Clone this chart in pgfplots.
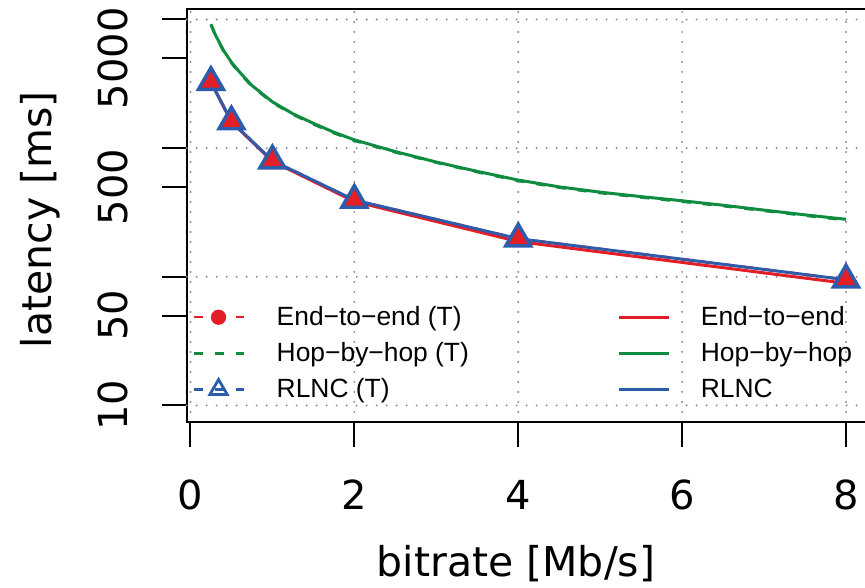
\documentclass[border=0pt]{standalone}
\usepackage{fontspec}
\setmainfont{Liberation Sans}
\newfontfamily\dvs{DejaVu Sans}
\usepackage{pgfplots}
\pgfplotsset{compat=1.18}
\definecolor{cred}{RGB}{228,30,38}
\definecolor{cgreen}{RGB}{16,140,64}
\definecolor{cblue}{RGB}{44,92,172}

\begin{document}
\begin{tikzpicture}
\begin{axis}[name=ax,
  scale only axis, width=342.4pt, height=206.5pt,
  xmin=-0.046, xmax=8.31,
  ymode=log, ymin=7.445, ymax=12067,
  axis line style={line width=1pt},
  every tick/.style={black, line width=1pt},
  tick align=outside, major tick length=12.5pt,
  xtick pos=bottom, ytick pos=left,
  xtick={0,2,4,6,8}, xmajorgrids,
  ytick={10,50,100,500,1000,5000,10000},
  yticklabels={10,50,,500,,5000,},
  yminorticks=false,
  extra y ticks={10,100,1000,10000}, extra y tick labels={},
  extra y tick style={ymajorgrids=true, major tick length=0pt},
  grid style={black!45, line width=1.1pt, dash pattern=on 0pt off 5pt, line cap=round},
  /pgf/number format/assume math mode=true,
  ticklabel style={font=\dvs\fontsize{20}{24}\selectfont},
  yticklabel style={rotate=90, anchor=south},
  xticklabel style={anchor=north},
  xticklabel shift=13pt, yticklabel shift=13.5pt,
  xlabel={bitrate [Mb/s]}, ylabel={latency [ms]},
  label style={font=\dvs\fontsize{20.5}{24}\selectfont},
  xlabel style={at={(axis description cs:0.481,-0.3426)}, anchor=center},
  ylabel style={at={(axis description cs:-0.2143,0.49)}, anchor=center},
  legend columns=2, legend cell align=left,
  legend image code/.code={\draw[mark repeat=2,mark phase=2,#1] plot coordinates {(0pt,0pt)(12.5pt,0pt)(25pt,0pt)};},
  legend style={at={(rel axis cs:0.0077,0.291)}, anchor=north west, draw=none, fill=none,
    inner sep=0pt, row sep=3pt, font=\fontsize{13.2}{15}\selectfont,
    /tikz/column 1/.style={column sep=14pt},
    /tikz/column 2/.style={column sep=72.5pt},
    /tikz/column 3/.style={column sep=13pt}},
]
% Hop-by-hop (T), dashed
\addplot[cgreen, line width=1.2pt, dash pattern=on 4.5pt off 6pt, forget plot] coordinates {
(0.25,9050)(0.3,7550)(0.4,5700)(0.5,4560)(0.6,3820)(0.75,3010)(1.0,2250)(1.25,1820)
(1.5,1530)(1.75,1305)(2.0,1140)(2.5,925)(3.0,770)(3.5,650)(4.0,555)(4.5,492)
(5.0,447)(5.5,413)(6.0,383)(6.5,354)(7.0,325)(7.5,298)(8.0,275)};
% Hop-by-hop
\addplot[cgreen, line width=1.5pt, forget plot] coordinates {
(0.25,9200)(0.3,7700)(0.4,5800)(0.5,4650)(0.6,3900)(0.75,3070)(1.0,2290)(1.25,1850)
(1.5,1560)(1.75,1330)(2.0,1160)(2.5,940)(3.0,780)(3.5,660)(4.0,565)(4.5,500)
(5.0,455)(5.5,420)(6.0,390)(6.5,360)(7.0,330)(7.5,303)(8.0,280)};
% End-to-end
\addplot[cred, line width=1.5pt, forget plot] coordinates {
(0.25,3260)(0.5,1600)(1,790)(2,385)(4,188)(8,89)};
% RLNC
\addplot[cblue, line width=1.5pt, forget plot] coordinates {
(0.25,3260)(0.5,1610)(1,800)(2,395)(4,198)(8,95)};
% End-to-end (T)
\addplot[cred, line width=1.2pt, dash pattern=on 4.5pt off 6pt, mark=triangle*, mark size=6pt,
  mark options={solid, fill=cred, draw=cred}, forget plot] coordinates {
(0.25,3260)(0.5,1610)(1,800)(2,395)(4,198)(8,95)};
% RLNC (T)
\addplot[cblue, line width=1.2pt, dash pattern=on 4.5pt off 6pt, mark=triangle, mark size=7.2pt,
  mark options={solid, line width=1.7pt}, forget plot] coordinates {
(0.25,3260)(0.5,1610)(1,800)(2,395)(4,198)(8,95)};

\addlegendimage{cred, line width=1.2pt, dash pattern=on 4.5pt off 6pt, mark=*, mark size=3.2pt, mark options={solid, fill=cred}}
\addlegendentry{End−to−end (T)}
\addlegendimage{cred, line width=1.5pt}
\addlegendentry{End−to−end}
\addlegendimage{cgreen, line width=1.2pt, dash pattern=on 4.5pt off 6pt}
\addlegendentry{Hop−by−hop (T)}
\addlegendimage{cgreen, line width=1.5pt}
\addlegendentry{Hop−by−hop}
\addlegendimage{cblue, line width=1.2pt, dash pattern=on 4.5pt off 6pt, mark=triangle, mark size=5pt, mark options={solid, line width=1.4pt}}
\addlegendentry{RLNC (T)}
\addlegendimage{cblue, line width=1.5pt}
\addlegendentry{RLNC}
\end{axis}
\pgfresetboundingbox
\path[use as bounding box] ([xshift=-93.35pt,yshift=-82.75pt]ax.south west) rectangle ([xshift=-3.2pt,yshift=4.5pt]ax.north east);
\end{tikzpicture}
\end{document}
